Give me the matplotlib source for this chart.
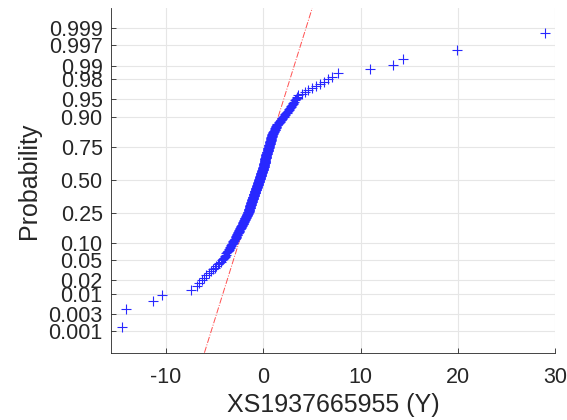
#grafica de probabilidad normal
import matplotlib
matplotlib.use('Agg')
import matplotlib.pyplot as plt
import numpy as np
from statistics import NormalDist

#datos (ordenados)
valores = [
    -14.47, -14.14, -11.31, -10.44, -7.46, -6.84,
    -6.59, -6.34, -6.09, -5.84, -5.59, -5.34,
    -5.12, -4.97, -4.82, -4.67, -4.52, -4.38, -4.23,
    -4.11, -4.05, -3.98, -3.92, -3.85, -3.79, -3.73, -3.66, -3.60, -3.54, -3.47,
    -3.42, -3.37, -3.33, -3.29, -3.24, -3.20, -3.15, -3.11, -3.07, -3.02, -2.98, -2.93, -2.89,
    -2.84, -2.81, -2.78, -2.75, -2.72, -2.69, -2.66, -2.63, -2.60, -2.57, -2.54, -2.51,
    -2.48, -2.45, -2.42, -2.39, -2.36, -2.33, -2.30, -2.27, -2.24, -2.21, -2.18,
    -2.14, -2.12, -2.10, -2.08, -2.05, -2.03, -2.01, -1.98, -1.96, -1.94, -1.92, -1.89,
    -1.87, -1.85, -1.83, -1.80, -1.78, -1.76, -1.73, -1.71, -1.69, -1.67, -1.64, -1.62,
    -1.60, -1.58, -1.55,
    -1.54, -1.52, -1.51, -1.50, -1.49, -1.47, -1.46, -1.45, -1.44, -1.42, -1.41, -1.40,
    -1.39, -1.37, -1.36, -1.35, -1.34, -1.32, -1.31, -1.30, -1.28, -1.27, -1.26, -1.25,
    -1.23, -1.22, -1.21, -1.20, -1.18, -1.17, -1.16, -1.15, -1.13, -1.12, -1.11, -1.10,
    -1.08, -1.07, -1.06, -1.05, -1.03, -1.02, -1.01, -0.99, -0.98, -0.97, -0.96,
    -0.94, -0.93, -0.92, -0.91, -0.89, -0.88, -0.87, -0.86, -0.84, -0.83, -0.82, -0.81,
    -0.80, -0.78, -0.77, -0.76, -0.75, -0.74, -0.72, -0.71, -0.70, -0.69, -0.68, -0.66,
    -0.65, -0.64, -0.63, -0.62, -0.60, -0.59, -0.58, -0.57, -0.56, -0.54, -0.53, -0.52,
    -0.51, -0.50, -0.48, -0.47, -0.46, -0.45, -0.44, -0.42, -0.41,
    -0.40, -0.39, -0.38, -0.37, -0.36, -0.34, -0.33, -0.32, -0.31, -0.30, -0.29, -0.28,
    -0.27, -0.25, -0.24, -0.23, -0.22, -0.21, -0.20, -0.19, -0.18, -0.16, -0.15, -0.14,
    -0.13, -0.12, -0.11, -0.10, -0.09, -0.07, -0.06, -0.05, -0.04, -0.03, -0.02, -0.01,
    0.00, 0.02, 0.03, 0.04, 0.05, 0.06, 0.07, 0.08,
    0.09, 0.10, 0.10, 0.11, 0.12, 0.13, 0.14, 0.14, 0.15, 0.16, 0.17, 0.18, 0.18, 0.19,
    0.20, 0.21, 0.22, 0.22, 0.23, 0.24, 0.25, 0.26, 0.26, 0.27, 0.28, 0.29, 0.30,
    0.31, 0.32, 0.33, 0.35, 0.36, 0.37, 0.39, 0.40, 0.41, 0.43, 0.44, 0.45, 0.46, 0.48,
    0.49, 0.50, 0.52, 0.53, 0.54, 0.55, 0.57, 0.58,
    0.59, 0.61, 0.62, 0.63, 0.64, 0.66, 0.67, 0.68, 0.69, 0.71, 0.72, 0.73, 0.74, 0.76,
    0.77, 0.78, 0.79, 0.81, 0.82, 0.83, 0.84, 0.86, 0.87, 0.88, 0.89,
    0.92, 0.94, 0.97, 1.00, 1.02, 1.05, 1.08, 1.11, 1.13, 1.16, 1.19, 1.21, 1.24, 1.27,
    1.30, 1.32, 1.35, 1.38,
    1.41, 1.46, 1.52, 1.58, 1.63, 1.69, 1.75, 1.81, 1.86, 1.92, 1.98, 2.03, 2.09, 2.15,
    2.21, 2.27, 2.34, 2.41, 2.47, 2.54, 2.61, 2.67, 2.74, 2.81, 2.87,
    2.95, 3.03, 3.11, 3.19, 3.27, 3.35, 3.44, 3.52, 3.60,
    3.95, 4.29, 4.63, 5.00, 5.40, 5.83, 6.20, 6.70, 7.10, 7.68,
    10.97, 13.30, 14.39, 19.94, 28.95,
]

prob_ticks = [0.001, 0.003, 0.01, 0.02, 0.05, 0.10, 0.25, 0.50, 0.75, 0.90, 0.95, 0.98, 0.99, 0.997, 0.999]
prob_labels = ['0.001', '0.003', '0.01', '0.02', '0.05', '0.10', '0.25', '0.50', '0.75', '0.90', '0.95', '0.98', '0.99', '0.997', '0.999']
x_ticks = [-10, 0, 10, 20, 30]

nd = NormalDist()
x = np.sort(np.array(valores))
n = len(x)
p = (np.arange(1, n + 1) - 0.5) / n
z = np.array([nd.inv_cdf(v) for v in p])

#linea de referencia por los cuartiles
q1, q3 = np.percentile(x, [25, 75])
zq = nd.inv_cdf(0.75)
pend = (q3 - q1) / (2 * zq)
centro = (q1 + q3) / 2

plt.rcParams['font.family'] = ['Liberation Sans', 'DejaVu Sans']
plt.rcParams['axes.unicode_minus'] = False
gris = '#262626'

fig = plt.figure(figsize=(5.67, 4.2), dpi=100)
ax = fig.add_axes([0.1958, 0.1602, 0.7831, 0.82])

ylim = (-3.53, 3.50)
zz = np.array(ylim)
ax.plot(centro + pend * zz, zz, color='#ff5050', linestyle='-.', linewidth=0.7)
ax.plot(x, z, linestyle='none', marker='+', color='#2828ff', markersize=7, markeredgewidth=0.8)

ax.set_xlim(-15.65, 30.0)
ax.set_ylim(*ylim)
ax.set_xticks(x_ticks)
ax.set_yticks([nd.inv_cdf(v) for v in prob_ticks])
ax.set_yticklabels(prob_labels)

ax.grid(True, color='#e6e6e6', linewidth=0.8)
ax.set_axisbelow(True)
for s in ['top', 'right']:
    ax.spines[s].set_visible(False)
for s in ['left', 'bottom']:
    ax.spines[s].set_color(gris)
    ax.spines[s].set_linewidth(0.6)

ax.tick_params(direction='in', length=3.6, width=0.6, color=gris, labelcolor=gris, labelsize=15.5)
ax.tick_params(axis='x', pad=10)
ax.tick_params(axis='y', pad=6)

ax.set_xlabel('XS1937665955 (Y)', fontsize=18, color=gris, labelpad=4)
ax.set_ylabel('Probability', fontsize=18, color=gris, labelpad=5)

fig.savefig('out.png', dpi=100)
